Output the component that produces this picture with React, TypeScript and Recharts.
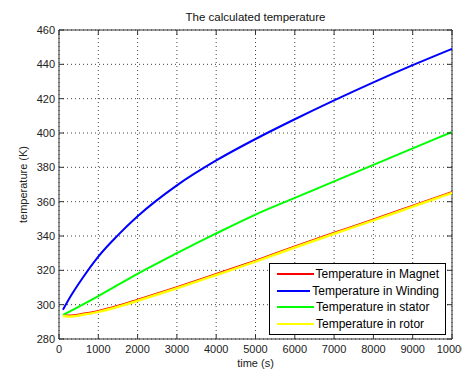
import React from 'react';
import { LineChart, Line, XAxis, YAxis, CartesianGrid, Legend, ReferenceLine } from 'recharts';

// time (s) and temperatures (K)
const times = [100, 300, 600, 1000, 1500, 2000, 3000, 4000, 5000, 6000, 7000, 8000, 9000, 10000];
const magnet = [294.0, 293.8, 294.8, 296.5, 299.5, 303.0, 310.3, 318.0, 325.8, 334.0, 342.0, 349.8, 357.8, 365.8];
const winding = [297.0, 305.0, 315.5, 328.0, 340.5, 351.5, 369.5, 384.0, 396.5, 408.0, 419.0, 429.5, 439.5, 449.0];
const stator = [294.0, 296.4, 300.0, 305.0, 311.5, 318.0, 330.0, 341.5, 352.5, 362.2, 371.8, 381.4, 391.0, 400.6];
const rotor = [293.4, 293.1, 294.1, 295.8, 298.8, 302.3, 309.6, 317.3, 325.1, 333.3, 341.3, 349.1, 357.1, 365.1];

const xTicks = [0, 1000, 2000, 3000, 4000, 5000, 6000, 7000, 8000, 9000, 10000];
const yTicks = [280, 300, 320, 340, 360, 380, 400, 420, 440, 460];

const seriesDefs = [
    { key: 'magnet', name: 'Temperature in Magnet', color: '#ff0000', width: 1.5 },
    { key: 'winding', name: 'Temperature in Winding', color: '#0000ff', width: 2 },
    { key: 'stator', name: 'Temperature in stator', color: '#00ff00', width: 2 },
    { key: 'rotor', name: 'Temperature in rotor', color: '#ffff00', width: 2.5 },
];

const data = times.map((t, i) => ({
    t,
    magnet: magnet[i],
    winding: winding[i],
    stator: stator[i],
    rotor: rotor[i],
}));

const W = 462;
const H = 370;
const MARGIN = { top: 30, right: 10, bottom: 0, left: 0 };
const Y_AXIS_W = 59;
const X_AXIS_H = 31;
const PLOT_TOP = MARGIN.top;
const PLOT_RIGHT = W - MARGIN.right;
const TICK_LEN = 5;
const AXIS_COLOR = '#333';
const FONT = '"Liberation Sans", Arial, sans-serif';

const XTick = (props: any) => {
    const { x, y, payload } = props;
    return (
        <g>
            <line x1={x} y1={y} x2={x} y2={y - TICK_LEN} stroke={AXIS_COLOR} />
            <line x1={x} y1={PLOT_TOP} x2={x} y2={PLOT_TOP + TICK_LEN} stroke={AXIS_COLOR} />
            <text x={x} y={y + 13.5} textAnchor="middle" fontSize={11} fontFamily={FONT} fill="#222">
                {payload.value}
            </text>
        </g>
    );
};

const YTick = (props: any) => {
    const { x, y, payload } = props;
    return (
        <g>
            <line x1={x} y1={y} x2={x + TICK_LEN} y2={y} stroke={AXIS_COLOR} />
            <line x1={PLOT_RIGHT} y1={y} x2={PLOT_RIGHT - TICK_LEN} y2={y} stroke={AXIS_COLOR} />
            <text x={x - 4} y={y + 4} textAnchor="end" fontSize={11} fontFamily={FONT} fill="#222">
                {payload.value}
            </text>
        </g>
    );
};

const renderLegend = () => (
    <div
        style={{
            border: '1px solid #000',
            background: '#fff',
            padding: '2px 6px 2px 7px',
            fontFamily: FONT,
            fontSize: 12,
            color: '#000',
            boxSizing: 'border-box',
        }}
    >
        {seriesDefs.map(s => (
            <div key={s.key} style={{ display: 'flex', alignItems: 'center', height: 16.5 }}>
                <span style={{ display: 'inline-block', width: 37, height: 2, background: s.color, marginRight: 2 }} />
                <span style={{ whiteSpace: 'nowrap' }}>{s.name}</span>
            </div>
        ))}
    </div>
);

export default function App() {
    return (
        <div style={{ position: 'relative', width: W, height: H, background: '#fff' }}>
            <style>{'body{margin:0}'}</style>
            <div
                style={{
                    position: 'absolute',
                    top: 10,
                    left: Y_AXIS_W,
                    width: PLOT_RIGHT - Y_AXIS_W,
                    textAlign: 'center',
                    fontFamily: FONT,
                    fontSize: 11.5,
                    lineHeight: '14px',
                    color: '#111',
                }}
            >
                The calculated temperature
            </div>
            <LineChart width={W} height={H} data={data} margin={MARGIN}>
                <CartesianGrid stroke="#444" strokeDasharray="1 3" />
                <XAxis
                    dataKey="t"
                    type="number"
                    domain={[0, 10000]}
                    ticks={xTicks}
                    height={X_AXIS_H}
                    tickSize={0}
                    tickMargin={0}
                    tickLine={false}
                    tick={XTick}
                    interval={0}
                    stroke={AXIS_COLOR}
                    label={{
                        content: (p: any) => {
                            const vb = p.viewBox;
                            return (
                                <text x={vb.x + vb.width / 2} y={vb.y + 28} textAnchor="middle" fontSize={11} fontFamily={FONT} fill="#222">
                                    time (s)
                                </text>
                            );
                        },
                    }}
                />
                <YAxis
                    type="number"
                    domain={[280, 460]}
                    ticks={yTicks}
                    width={Y_AXIS_W}
                    tickSize={0}
                    tickMargin={0}
                    tickLine={false}
                    tick={YTick}
                    interval={0}
                    stroke={AXIS_COLOR}
                    label={{
                        content: (p: any) => {
                            const vb = p.viewBox;
                            const cx = vb.x + 27;
                            const cy = vb.y + vb.height / 2;
                            return (
                                <text x={cx} y={cy} textAnchor="middle" fontSize={11} fontFamily={FONT} fill="#222" transform={`rotate(-90 ${cx} ${cy})`}>
                                    temperature (K)
                                </text>
                            );
                        },
                    }}
                />
                <ReferenceLine y={460} stroke={AXIS_COLOR} />
                <ReferenceLine x={10000} stroke={AXIS_COLOR} />
                {seriesDefs.map(s => (
                    <Line
                        key={s.key}
                        type="monotone"
                        dataKey={s.key}
                        name={s.name}
                        stroke={s.color}
                        strokeWidth={s.width}
                        dot={false}
                        activeDot={false}
                        isAnimationActive={false}
                    />
                ))}
                <Legend
                    layout="vertical"
                    align="center"
                    verticalAlign="middle"
                    content={renderLegend}
                    wrapperStyle={{ left: 269, top: 263, width: 177, height: 70 }}
                />
            </LineChart>
        </div>
    );
}
